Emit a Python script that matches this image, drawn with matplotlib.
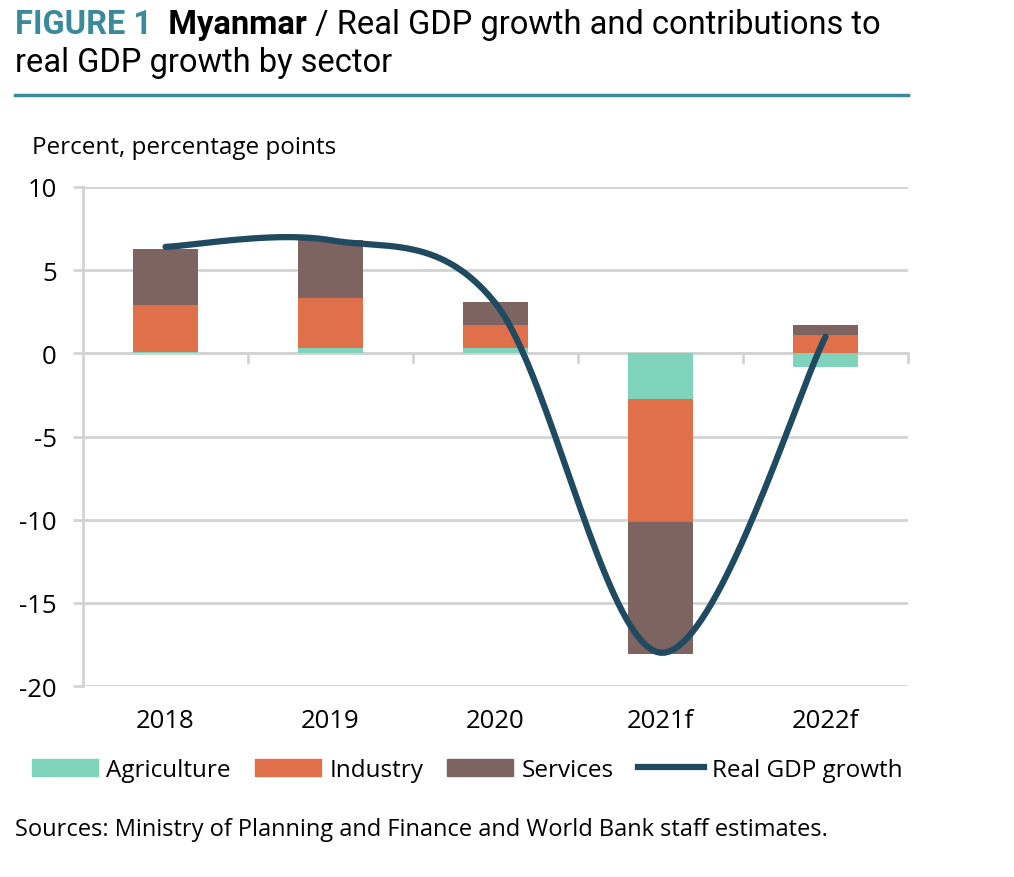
import numpy as np
import matplotlib
matplotlib.use("Agg")
import matplotlib.pyplot as plt
from matplotlib.lines import Line2D

plt.rcParams["axes.unicode_minus"] = False

years = ["2018", "2019", "2020", "2021f", "2022f"]
agriculture = [0.05, 0.3, 0.3, -2.75, -0.8]
industry = [2.85, 3.0, 1.4, -7.4, 1.1]
services = [3.4, 3.5, 1.4, -7.95, 0.6]
gdp_growth = [6.4, 6.8, 3.0, -18.0, 1.0]

c_agri = "#7fd3bb"
c_ind = "#e0704a"
c_serv = "#7d6461"
c_line = "#1f4a60"
c_grid = "#d3d3d3"
c_teal = "#3a8a9c"

body_font = ["Open Sans", "DejaVu Sans"]
title_font = ["Roboto", "DejaVu Sans"]


def smooth(xs, ys, n=40):
    # Excel-style smoothed line (Bezier with Catmull-Rom control points)
    xs = np.asarray(xs, float)
    ys = np.asarray(ys, float)
    px = np.concatenate([[xs[0]], xs, [xs[-1]]])
    py = np.concatenate([[ys[0]], ys, [ys[-1]]])
    out_x, out_y = [], []
    t = np.linspace(0, 1, n)
    for i in range(1, len(px) - 2):
        p0 = np.array([px[i], py[i]])
        p3 = np.array([px[i + 1], py[i + 1]])
        c1 = p0 + (np.array([px[i + 1], py[i + 1]]) - np.array([px[i - 1], py[i - 1]])) / 6
        c2 = p3 - (np.array([px[i + 2], py[i + 2]]) - np.array([px[i], py[i]])) / 6
        b = ((1 - t) ** 3)[:, None] * p0 + (3 * (1 - t) ** 2 * t)[:, None] * c1 \
            + (3 * (1 - t) * t ** 2)[:, None] * c2 + (t ** 3)[:, None] * p3
        out_x.extend(b[:, 0])
        out_y.extend(b[:, 1])
    return out_x, out_y


fig = plt.figure(figsize=(10.14, 8.78), dpi=100)
ax = fig.add_axes([0.0819, 0.2175, 0.8136, 0.5684])

x = np.arange(len(years))
w = 0.39
agri = np.array(agriculture)
ind = np.array(industry)
serv = np.array(services)

# stack positives upward and negatives downward
pos_base = np.zeros(len(x))
neg_base = np.zeros(len(x))
for vals, col in [(agri, c_agri), (ind, c_ind), (serv, c_serv)]:
    bottoms = np.where(vals >= 0, pos_base, neg_base)
    ax.bar(x, vals, w, bottom=bottoms, color=col, zorder=2)
    pos_base = pos_base + np.where(vals >= 0, vals, 0)
    neg_base = neg_base + np.where(vals < 0, vals, 0)

sx, sy = smooth(x, gdp_growth)
ax.plot(sx, sy, color=c_line, lw=4.5, solid_capstyle="round", zorder=3)

ax.set_xlim(-0.5, 4.5)
ax.set_ylim(-20, 10)
ax.set_yticks([10, 5, 0, -5, -10, -15, -20])
ax.grid(axis="y", color=c_grid, lw=2, zorder=0)
ax.set_axisbelow(True)
for s in ["top", "right", "bottom"]:
    ax.spines[s].set_visible(False)
ax.spines["left"].set_color(c_grid)
ax.spines["left"].set_linewidth(2)
ax.tick_params(axis="y", length=7, width=2, color=c_grid, labelsize=18.5, pad=12)
ax.tick_params(axis="x", length=0, labelsize=18.5, pad=16)

# category axis at zero with boundary ticks
ax.axhline(0, color=c_grid, lw=2, zorder=1)
for b in np.arange(0.5, 5.0, 1.0):
    ax.plot([b, b], [0, -0.5], color=c_grid, lw=2, zorder=1, clip_on=False)

ax.set_xticks(x)
ax.set_xticklabels(years)
for lab in ax.get_yticklabels() + ax.get_xticklabels():
    lab.set_family(body_font)

handles = [
    plt.Rectangle((0, 0), 1, 1, color=c_agri),
    plt.Rectangle((0, 0), 1, 1, color=c_ind),
    plt.Rectangle((0, 0), 1, 1, color=c_serv),
    Line2D([0], [0], color=c_line, lw=4.5),
]
fig.legend(handles, ["Agriculture", "Industry", "Services", "Real GDP growth"],
           loc="center", bbox_to_anchor=(0.461, 0.122), ncol=4, frameon=False,
           prop={"family": body_font, "size": 17.5}, handlelength=2.7,
           handleheight=0.7, handletextpad=0.35, columnspacing=1.0)

# title block, pieces chained left to right
fig.canvas.draw()
renderer = fig.canvas.get_renderer()
title_y = 0.99
title_size = 23.5
pieces = [("FIGURE 1", c_teal, "bold"), ("  Myanmar", "black", "bold"),
          (" / Real GDP growth and contributions to", "black", "normal")]
cur_x = 0.015
for txt, col, wt in pieces:
    t = fig.text(cur_x, title_y, txt, color=col, fontsize=title_size, fontweight=wt,
                 family=title_font, va="top")
    bb = t.get_window_extent(renderer)
    cur_x = bb.x1 / fig.bbox.width
fig.text(0.015, 0.946, "real GDP growth by sector", color="black", fontsize=title_size,
         family=title_font, va="top")
fig.add_artist(Line2D([0.015, 0.895], [0.8907, 0.8907], color=c_teal, lw=2.5))

fig.text(0.032, 0.831, "Percent, percentage points", fontsize=17.5,
         family=body_font, va="center")
fig.text(0.015, 0.055, "Sources: Ministry of Planning and Finance and World Bank staff estimates.",
         fontsize=17, family=body_font, va="center")

fig.savefig("out.png", dpi=100, facecolor="white")
